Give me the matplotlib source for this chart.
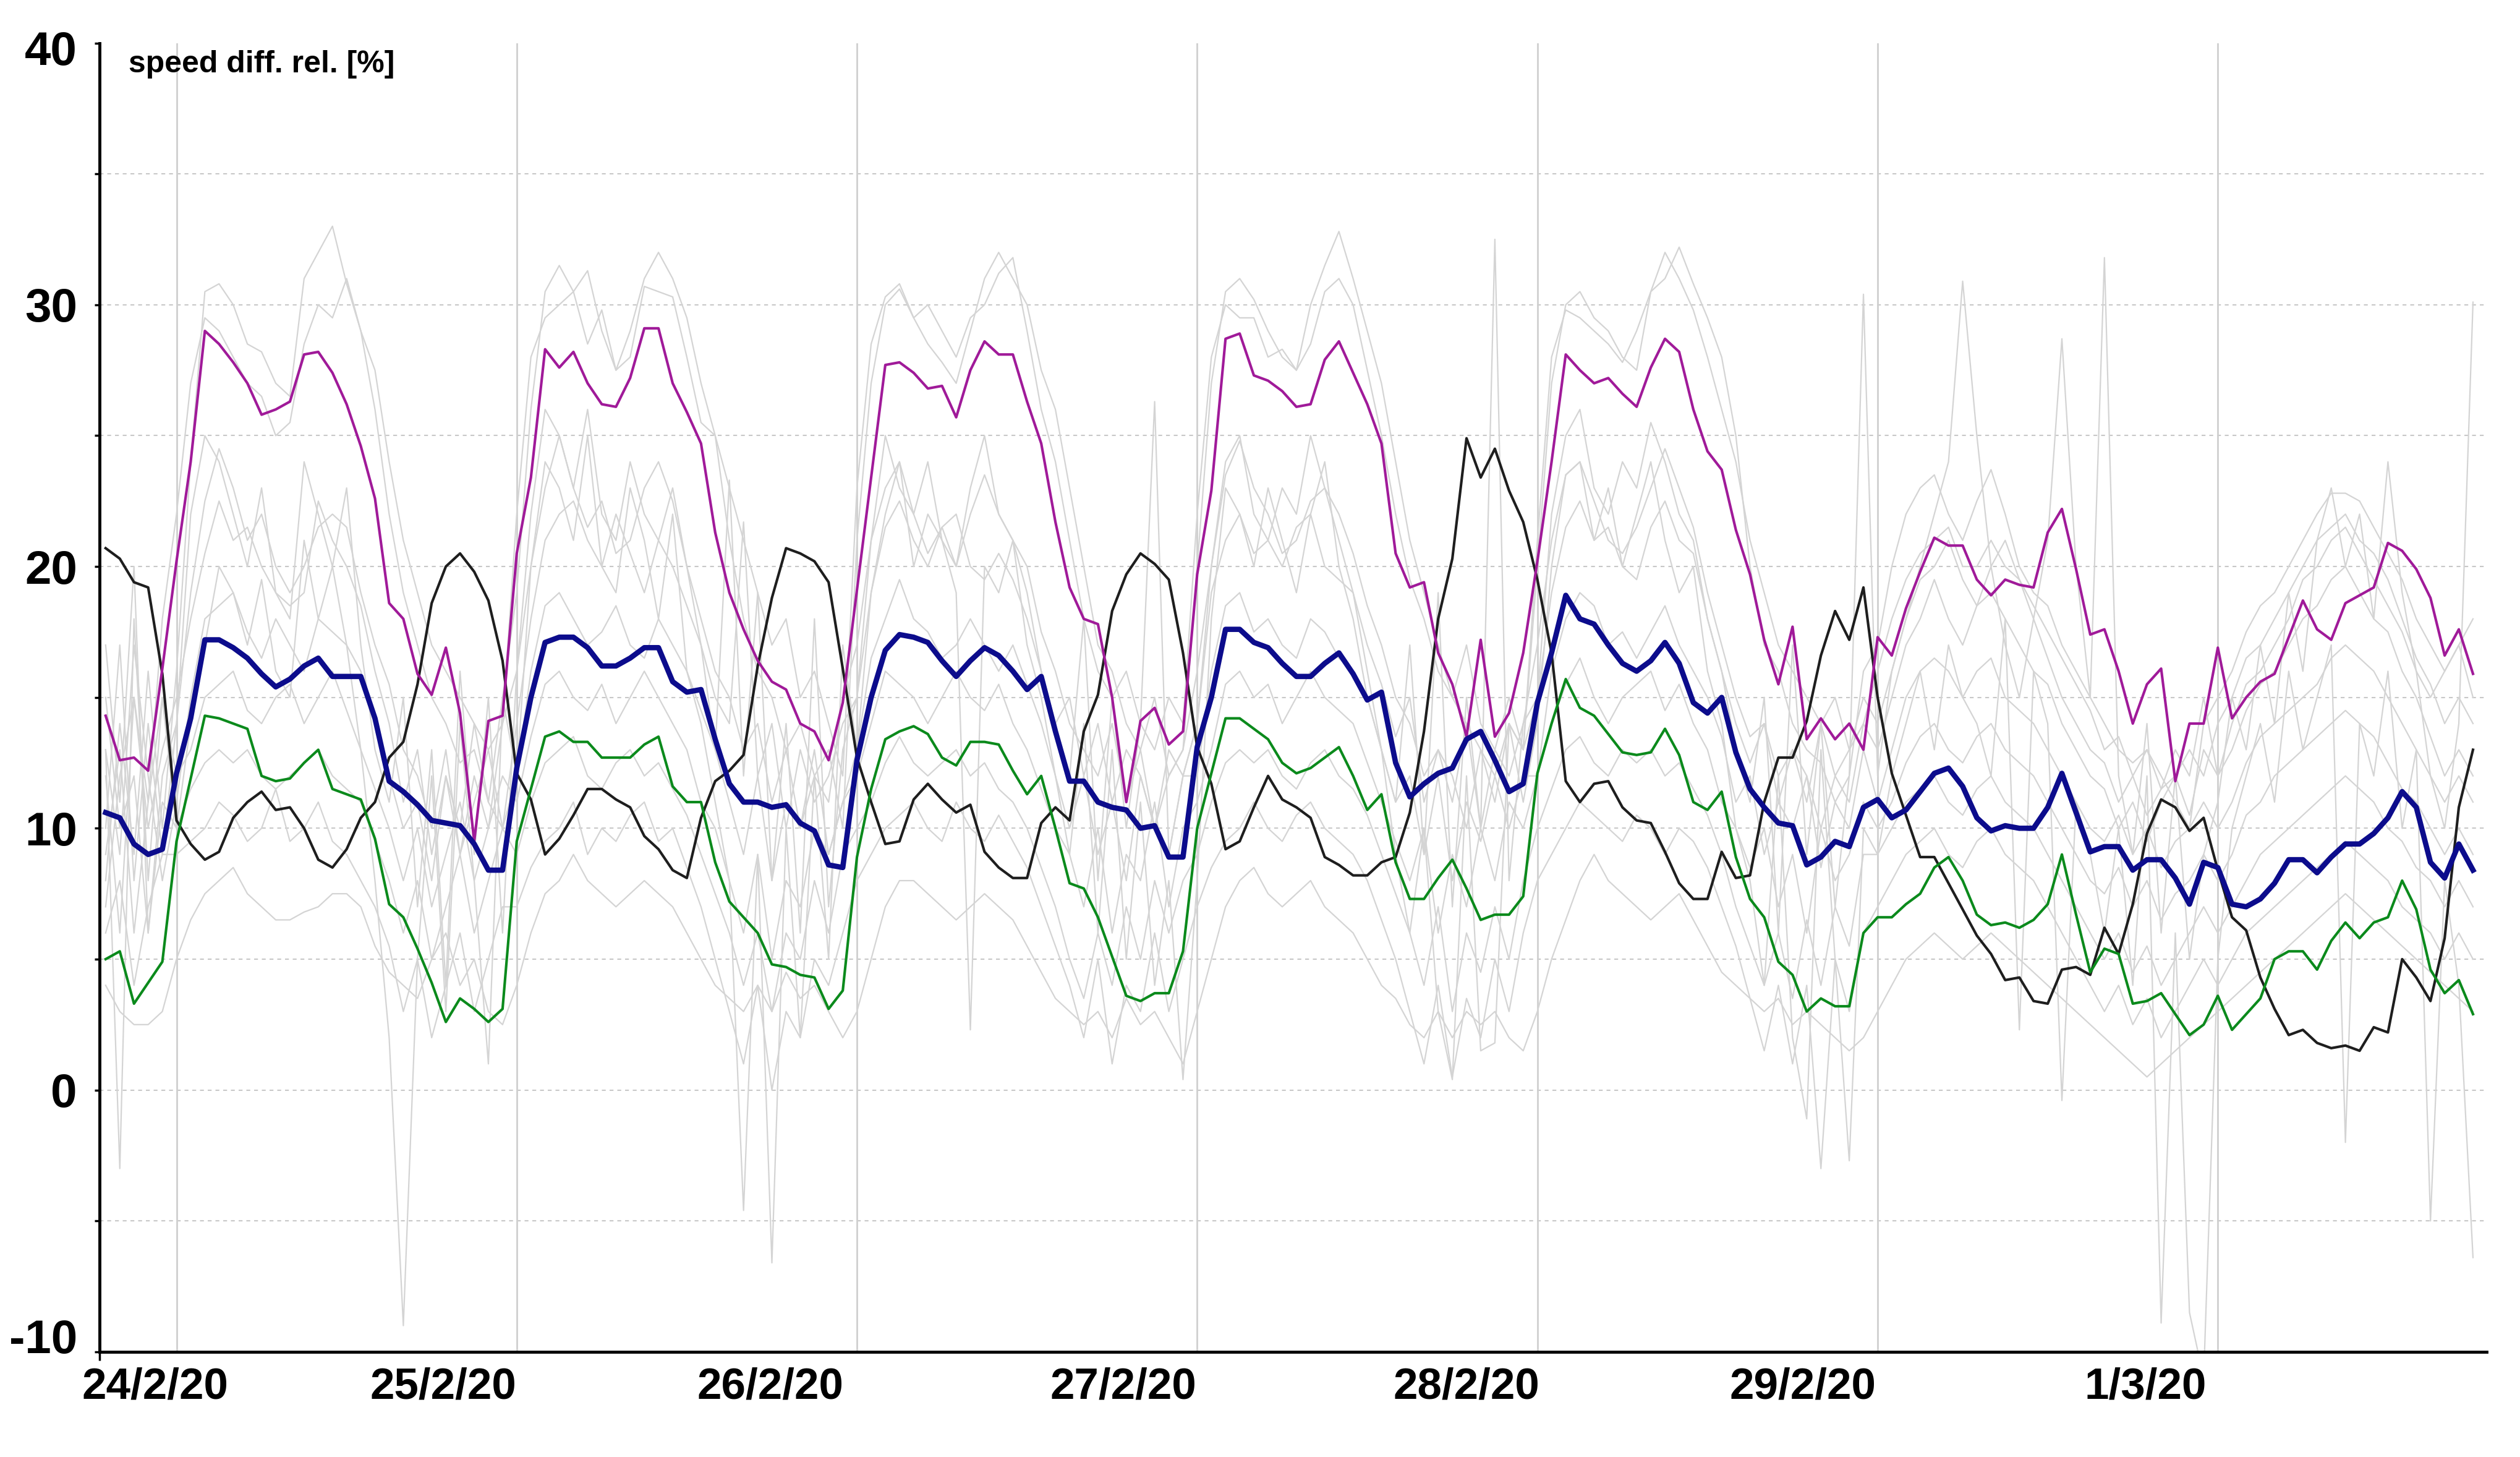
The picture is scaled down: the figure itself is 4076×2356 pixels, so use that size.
import numpy as np
import matplotlib
matplotlib.use("Agg")
import matplotlib.pyplot as plt
from matplotlib.transforms import ScaledTranslation

# hourly samples, hour 0 = 24/2/20 00:00
hours = np.arange(-5, 163)

blue = [10.6, 10.4, 9.4, 9.0, 9.2,
        12.1, 14.2, 17.2, 17.2, 16.9, 16.5, 15.9, 15.4, 15.7, 16.2, 16.5, 15.8, 15.8, 15.8, 14.2, 11.8, 11.4, 10.9, 10.3, 10.2, 10.1, 9.4, 8.4, 8.4,
        12.3, 15.0, 17.1, 17.3, 17.3, 16.9, 16.2, 16.2, 16.5, 16.9, 16.9, 15.6, 15.2, 15.3, 13.4, 11.7, 11.0, 11.0, 10.8, 10.9, 10.2, 9.9, 8.6, 8.5,
        12.6, 15.0, 16.8, 17.4, 17.3, 17.1, 16.4, 15.8, 16.4, 16.9, 16.6, 16.0, 15.3, 15.8, 13.7, 11.8, 11.8, 11.0, 10.8, 10.7, 10.0, 10.1, 8.9, 8.9,
        13.1, 15.0, 17.6, 17.6, 17.1, 16.9, 16.3, 15.8, 15.8, 16.3, 16.7, 15.9, 14.9, 15.2, 12.5, 11.2, 11.7, 12.1, 12.3, 13.4, 13.7, 12.6, 11.4, 11.7,
        14.8, 16.7, 18.9, 18.0, 17.8, 17.0, 16.3, 16.0, 16.4, 17.1, 16.3, 14.8, 14.4, 15.0, 12.9, 11.5, 10.8, 10.2, 10.1, 8.6, 8.9, 9.5, 9.3, 10.8,
        11.1, 10.4, 10.7, 11.4, 12.1, 12.3, 11.6, 10.4, 9.9, 10.1, 10.0, 10.0, 10.8, 12.1, 10.6, 9.1, 9.3, 9.3, 8.4, 8.8, 8.8, 8.1, 7.1, 8.7,
        8.5, 7.1, 7.0, 7.3, 7.9, 8.8, 8.8, 8.3, 8.9, 9.4, 9.4, 9.8, 10.4, 11.4, 10.8, 8.7, 8.1, 9.4, 8.4]

magenta = [14.3, 12.6, 12.7, 12.2, 16.1,
           20.2, 24.0, 29.0, 28.5, 27.8, 27.0, 25.8, 26.0, 26.3, 28.1, 28.2, 27.4, 26.2, 24.6, 22.6, 18.6, 18.0, 15.9, 15.1, 16.9, 14.4, 9.5, 14.1, 14.3,
           20.5, 23.4, 28.3, 27.6, 28.2, 27.0, 26.2, 26.1, 27.2, 29.1, 29.1, 27.0, 25.9, 24.7, 21.3, 19.0, 17.6, 16.4, 15.6, 15.3, 14.0, 13.7, 12.6, 14.8,
           19.1, 23.4, 27.7, 27.8, 27.4, 26.8, 26.9, 25.7, 27.5, 28.6, 28.1, 28.1, 26.3, 24.7, 21.7, 19.2, 18.0, 17.8, 15.0, 11.0, 14.1, 14.6, 13.2, 13.7,
           19.7, 22.9, 28.7, 28.9, 27.3, 27.1, 26.7, 26.1, 26.2, 27.9, 28.6, 27.4, 26.2, 24.7, 20.5, 19.2, 19.4, 16.7, 15.5, 13.5, 17.2, 13.5, 14.4, 16.7,
           20.2, 24.0, 28.1, 27.5, 27.0, 27.2, 26.6, 26.1, 27.6, 28.7, 28.2, 26.0, 24.4, 23.7, 21.4, 19.7, 17.2, 15.5, 17.7, 13.4, 14.2, 13.4, 14.0, 13.0,
           17.3, 16.6, 18.4, 19.8, 21.1, 20.8, 20.8, 19.5, 18.9, 19.5, 19.3, 19.2, 21.3, 22.2, 19.9, 17.4, 17.6, 16.0, 14.0, 15.5, 16.1, 11.8, 14.0, 14.0,
           16.9, 14.2, 15.0, 15.6, 15.9, 17.3, 18.7, 17.6, 17.2, 18.6, 18.9, 19.2, 20.9, 20.6, 19.9, 18.8, 16.6, 17.6, 15.9]

green = [5.0, 5.3, 3.3, 4.1, 4.9,
         9.5, 11.9, 14.3, 14.2, 14.0, 13.8, 12.0, 11.8, 11.9, 12.5, 13.0, 11.5, 11.3, 11.1, 9.6, 7.1, 6.6, 5.4, 4.1, 2.6, 3.5, 3.1, 2.6, 3.1,
         9.5, 11.5, 13.5, 13.7, 13.3, 13.3, 12.7, 12.7, 12.7, 13.2, 13.5, 11.6, 11.0, 11.0, 8.7, 7.2, 6.6, 6.0, 4.8, 4.7, 4.4, 4.3, 3.1, 3.8,
         8.9, 11.5, 13.4, 13.7, 13.9, 13.6, 12.7, 12.4, 13.3, 13.3, 13.2, 12.2, 11.3, 12.0, 10.0, 7.9, 7.7, 6.6, 5.1, 3.6, 3.4, 3.7, 3.7, 5.3,
         10.0, 12.1, 14.2, 14.2, 13.8, 13.4, 12.5, 12.1, 12.3, 12.7, 13.1, 12.0, 10.7, 11.3, 8.7, 7.3, 7.3, 8.1, 8.8, 7.7, 6.5, 6.7, 6.7, 7.4,
         12.1, 14.0, 15.7, 14.6, 14.3, 13.6, 12.9, 12.8, 12.9, 13.8, 12.8, 11.0, 10.7, 11.4, 8.9, 7.3, 6.6, 4.9, 4.4, 3.0, 3.5, 3.2, 3.2, 6.0,
         6.6, 6.6, 7.1, 7.5, 8.5, 8.9, 8.0, 6.7, 6.3, 6.4, 6.2, 6.5, 7.1, 9.0, 6.7, 4.5, 5.4, 5.2, 3.3, 3.4, 3.7, 2.9, 2.1, 2.5,
         3.6, 2.3, 2.9, 3.5, 5.0, 5.3, 5.3, 4.6, 5.7, 6.4, 5.8, 6.4, 6.6, 8.0, 6.9, 4.6, 3.7, 4.2, 2.9]

black = [20.7, 20.3, 19.4, 19.2, 15.9,
         10.3, 9.4, 8.8, 9.1, 10.4, 11.0, 11.4, 10.7, 10.8, 10.0, 8.8, 8.5, 9.2, 10.4, 11.0, 12.7, 13.3, 15.5, 18.6, 20.0, 20.5, 19.8, 18.7, 16.4,
         12.1, 11.1, 9.0, 9.6, 10.5, 11.5, 11.5, 11.1, 10.8, 9.7, 9.2, 8.4, 8.1, 10.4, 11.8, 12.2, 12.8, 16.2, 18.8, 20.7, 20.5, 20.2, 19.4, 16.1,
         12.7, 11.0, 9.4, 9.5, 11.1, 11.7, 11.1, 10.6, 10.9, 9.1, 8.5, 8.1, 8.1, 10.2, 10.8, 10.3, 13.7, 15.1, 18.3, 19.7, 20.5, 20.1, 19.5, 16.7,
         13.1, 11.7, 9.2, 9.5, 10.8, 12.0, 11.1, 10.8, 10.4, 8.9, 8.6, 8.2, 8.2, 8.7, 8.9, 10.6, 13.7, 18.0, 20.3, 24.9, 23.4, 24.5, 22.9, 21.7,
         19.5, 16.7, 11.8, 11.0, 11.7, 11.8, 10.8, 10.3, 10.2, 9.1, 7.9, 7.3, 7.3, 9.1, 8.1, 8.2, 11.0, 12.7, 12.7, 14.1, 16.6, 18.3, 17.2, 19.2,
         15.0, 12.1, 10.5, 8.9, 8.9, 7.9, 6.9, 5.9, 5.2, 4.2, 4.3, 3.4, 3.3, 4.6, 4.7, 4.4, 6.2, 5.2, 7.1, 9.8, 11.1, 10.8, 9.9, 10.4,
         8.4, 6.6, 6.1, 4.3, 3.1, 2.1, 2.3, 1.8, 1.6, 1.7, 1.5, 2.4, 2.2, 5.0, 4.3, 3.4, 5.8, 10.8, 13.0]

# individual series in grey
gray_01 = [8, 14, 9, 16, 10,
           16, 24, 30.5, 30.8, 30, 28.5, 28.2, 27, 26.5, 31, 32, 33, 30.8, 29, 26, 22, 19, 17, 15, 14, 12.5, 13, 11, 15,
           19, 26, 30.5, 31.5, 30.5, 31.3, 29, 27.5, 29, 31, 32, 31, 29.5, 27, 25, 21, 18, 16, 15, 13, 14, 12, 13, 10,
           21, 27, 30, 30.6, 29.5, 28.5, 27.8, 27, 29, 31, 32, 31, 30, 27.5, 26, 23, 20, 17, 16, 14, 13, 15, 12, 13,
           20, 27, 30.5, 31, 30.2, 29, 28, 27.5, 30, 31.5, 32.8, 31, 29, 27, 24, 21, 19, 17, 15, 14, 13, 12, 14, 13,
           20, 27, 30, 30.5, 29.5, 29, 28, 27.5, 30.5, 31, 32.2, 30.8, 29.5, 28, 25, 20, 17, 16, 14, 13, 12.5, 11, 12, 16,
           17, 20, 22, 23, 23.5, 22, 21, 22.5, 23.7, 22, 20, 19, 18.5, 17, 16, 15, 14, 13, 12.5, 13, 12, 11, 10, 14,
           15, 16, 17.5, 18.5, 19, 20, 21, 22, 22.8, 22.8, 22.5, 21.5, 20.5, 19.5, 18, 17, 16, 17, 15]
gray_02 = [12, 6, 15, 11, 18,
           22, 27, 29.5, 29, 28, 27, 26.5, 25, 25.5, 28.5, 30, 29.5, 31, 29, 27.5, 24, 21, 19, 17, 16, 15, 14, 13, 14,
           22, 28, 29.5, 30, 30.5, 28.5, 29.8, 27.5, 28, 30.7, 30.5, 30.3, 28, 25.5, 25, 23, 21, 19, 17, 18, 15, 16, 14, 12,
           23, 28.5, 30.3, 30.8, 29.5, 30, 29, 28, 29.5, 30, 31.2, 31.8, 29, 26, 24, 21, 18, 16, 15, 16, 14, 13, 15, 14,
           22, 28, 30, 29.5, 29.5, 28, 28.3, 27.5, 28.5, 30.5, 31, 30, 27.5, 25, 22, 19.5, 18, 16, 15, 17, 14, 13, 15, 13,
           21, 28, 29.8, 29.5, 29, 28.5, 27.8, 29, 30.5, 32, 31, 29.8, 28, 26, 24, 21, 19, 17, 16, 15, 14, 15, 13, 14,
           16, 18, 19.5, 20.5, 21, 21.5, 20, 20, 21, 20, 19.5, 18.5, 17.5, 16.5, 15.5, 14.5, 13, 13.5, 12, 13, 11.5, 12, 13, 12,
           14, 15, 16.5, 17, 18, 19, 20, 21, 21.5, 22, 21, 20.5, 19.5, 18, 16.5, 15.5, 14, 15, 14]
gray_03 = [10, 17, 8, 14, 9,
           14, 19, 22.5, 24.5, 23, 21, 22, 20, 19, 20, 21.5, 22, 21.5, 19, 17, 15.5, 13, 12, 10, 13, 9, 12, 10, 14,
           16, 20, 23, 25, 23, 21.5, 22.5, 20.5, 21, 23, 24, 22.5, 20, 18, 16, 15, 13, 14, 11, 13, 10, 12, 11, 15,
           17, 21, 23, 24, 22, 20.5, 21.5, 20, 22, 23.5, 22, 21, 20, 17.5, 16, 14, 13, 12, 14, 11, 13, 10, 12, 13,
           16, 20, 23.5, 24.8, 23, 22, 20.5, 21, 22.5, 23, 22, 20.5, 18.5, 17, 15, 14, 12, 13, 11, 14, 10, 13, 12, 14,
           17, 21, 23.5, 24, 22.5, 21, 20.5, 21.5, 23, 24.5, 23, 21.5, 19, 17, 15, 13.5, 14, 12, 13, 11, 14, 12, 13, 15,
           14, 16, 18, 19.5, 20, 21, 19.5, 18.5, 20, 21, 19.5, 18, 16.5, 15, 14, 13, 12.5, 11, 12, 10.5, 11.5, 13, 12, 15,
           12, 14, 15.5, 16, 17, 18, 19.5, 20, 21, 21.5, 20.5, 19.5, 18.5, 17.5, 16, 15, 16, 17, 18]
gray_04 = [7, 12, 15, 10, 13,
           15, 18, 20.5, 22.5, 21, 21.5, 20, 19, 18.5, 19, 22.5, 21, 20, 18.5, 16, 14, 11, 13, 9, 12, 10, 14, 11, 10,
           14, 18, 21, 22, 22.5, 21, 20, 22, 20.5, 19, 21, 20, 18.5, 17, 15, 14, 21.7, 12, 14, 10, 13, 11, 12, 14,
           15, 19, 21.5, 22.5, 21, 20, 21.5, 22, 20, 19.5, 20.5, 19.5, 18, 16, 14, 15, 12, 14, 11, 13, 12, 10, 13, 12,
           14, 19, 21, 22, 20.5, 21, 20, 21.5, 22, 20, 19.5, 19, 17, 15.5, 13.5, 15, 11, 13, 12, 10, 13, 11, 14, 13,
           15, 19, 21.5, 22.5, 21, 21.5, 20, 19.5, 21.5, 22.5, 21, 20.5, 18, 16, 14, 12.5, 14, 11, 13, 12, 10, 12, 11, 14,
           13, 15, 17, 18, 19.5, 18, 17, 18.5, 19, 18, 17, 16, 15.5, 14, 13, 12, 11.5, 10, 11, 9.5, 11, 12, 10.5, 13,
           12, 13, 14.5, 15.5, 16, 17, 18, 18.5, 19.5, 20, 19, 18, 17.5, 16, 15, 13.5, 12, 13, 12]
gray_05 = [13, 9, 17, 12, 8,
           11, 15, 18, 18.5, 19, 17.5, 16.5, 18, 17, 16, 18, 17.5, 17, 16, 14, 12, 10, 11, 8, 12, 9, 11, 13, 10,
           12, 16, 18.5, 19, 18, 17, 17.5, 18.5, 17, 16.5, 18, 17, 16, 14.5, 13, 11, 9, 12, 8, 11, 10, 13, 9, 11,
           13, 16.5, 18, 19.5, 18, 17.5, 16.5, 17, 18, 17, 16, 17, 15.5, 14, 12, 10, 12, 9, 11, 8, 12, 10, 9, 12,
           12, 16, 18.5, 19, 17.5, 18, 17, 16.5, 18, 17.5, 16.5, 16, 15, 13, 11, 12, 9, 12, 8, 11, 9.5, 12, 10, 12,
           12, 16, 18, 19, 18.5, 17, 17.5, 16.5, 17.5, 18.5, 17, 16, 15, 13.5, 11, 12, 9, 11, 10, 12, 8.5, 11, 10, 13,
           11, 13, 15, 16, 16.5, 16, 15, 16, 16.5, 15, 14.5, 14, 13, 12, 11, 10, 9.5, 10.5, 9, 10, 8.5, 9.5, 10, 11,
           10, 11, 12.5, 13.5, 14, 14.5, 15, 15.5, 16.5, 17, 16.5, 16, 15, 14, 13, 12, 11, 12, 11]
gray_06 = [9, 13, 6, 11, 15,
           12, 13, 15, 15.5, 16, 14.5, 14, 15, 15.5, 14, 15, 16, 14.5, 13, 11.5, 10, 8, 10, 7, 9, 11, 8, 10, 12,
           11, 13.5, 15.5, 16, 15, 14.5, 15.5, 14, 15, 16, 15, 14, 13, 11, 10, 8, 6, 9, 5, 8, 7, 10, 9, 11,
           12, 14, 16, 15.5, 15, 14, 15, 16, 15, 14.5, 15.5, 14, 13, 11.5, 10, 9, 7, 10, 6, 9, 8, 11, 7, 10,
           11, 13, 15.5, 16, 15, 15.5, 14, 15, 16, 15, 14.5, 14, 12.5, 11, 9.5, 8, 10, 6, 9, 7, 10, 8, 11, 10,
           12, 14, 15.5, 16.5, 15, 14, 15, 15.5, 16, 14.5, 15.5, 14, 13, 11, 10, 8.5, 10, 7, 9, 6, 10, 8, 9, 11,
           10, 11, 12.5, 13.5, 14, 13, 12.5, 13.5, 14, 13, 12.5, 12, 11, 10, 9, 8, 7.5, 8.5, 7, 8, 6.5, 7.5, 8, 9,
           8, 9, 10.5, 11, 12, 12.5, 13, 13.5, 14, 14.5, 14, 13.5, 12.5, 11.5, 11, 10, 9, 10, 9]
gray_07 = [15, 10, 12, 6, 11,
           10, 11.5, 12.5, 13, 12.5, 13, 12, 11.5, 12, 12.5, 13, 12, 11.5, 11, 9.5, 8, 6, 8, 5, 7, 9, 6, 8, 10,
           9, 11, 12.5, 13, 13.5, 12, 11.5, 12.5, 13, 12, 12.5, 11.5, 10.5, 9, 7.5, 6, 4, 6, 3, 6, 5, 8, 6, 9,
           10, 11, 12.5, 13.5, 12.5, 12, 12.5, 13, 12, 12.5, 11.5, 11, 10, 8.5, 7, 5, 3.5, 6, 4, 7, 5, 8, 6, 8,
           9, 11, 12.5, 13, 12.5, 13, 12, 11.5, 12.5, 13, 12, 11.5, 10.5, 9, 7.5, 6, 4, 7, 3, 6, 4.5, 7, 5, 8,
           10, 11.5, 13, 13.5, 12.5, 12, 13, 12.5, 13, 12, 12.5, 11.5, 10.5, 9, 7, 5.5, 4, 6, 3.5, 6.5, 4, 7, 5.5, 9,
           9, 10, 11, 11.5, 12, 11, 10.5, 11.5, 12, 11, 10.5, 10, 9, 8, 7, 6, 5, 6, 4.5, 5.5, 4, 5, 6, 7,
           6, 7, 8, 9, 9.5, 10, 10.5, 11, 11.5, 12, 11.5, 11, 10, 9.5, 8.5, 8, 7, 8, 7]
gray_08 = [6, 8, 4, 7, 9,
           9, 9.5, 10, 11, 10.5, 9.5, 10, 11.5, 9.5, 10, 11, 9.5, 9, 8, 7, 5.5, 3, 5, 2, 4, 6, 3, 5, 7,
           7, 8.5, 9.5, 10, 11, 9, 10, 9.5, 10.5, 11, 9.5, 10, 8.5, 7, 5, 3, 1, 4, 0, 3, 2, 5, 4, 6,
           8, 9, 10, 10.5, 11, 10, 9.5, 11, 10, 9.5, 10.5, 9.5, 8.5, 7, 5.5, 4, 2, 5, 1, 4, 3, 6, 3, 5,
           7, 8.5, 9.5, 10, 11, 10, 9.5, 10.5, 11, 10, 9.5, 9, 8, 6.5, 5, 3, 1, 4, 0.5, 3.5, 2, 5, 3, 6,
           8, 9, 10, 11, 10.5, 10, 9.5, 10.5, 10, 9, 10, 9.5, 8.5, 7, 5.5, 3.5, 1.5, 4, 1, 4, -3, 5, 3, 6,
           7, 8, 9, 9.5, 10, 9, 8.5, 9.5, 10, 9, 8.5, 8, 7, 6, 5, 4, 3, 4, 2.5, 3.5, 2, 3, 4, 5,
           4, 5, 6, 6.5, 7, 7.5, 8, 8.5, 9, 9.5, 9, 8.5, 8, 7, 6.5, 6, 5, 6, 5]
gray_09 = [4, 3, 2.5, 2.5, 3,
           5, 6.5, 7.5, 8, 8.5, 7.5, 7, 6.5, 6.5, 6.8, 7, 7.5, 7.5, 7, 5.5, 4.5, 4, 3.5, 5, 6, 4, 5, 3, 2.5,
           4, 6, 7.5, 8, 9, 8, 7.5, 7, 7.5, 8, 7.5, 7, 6, 5, 4, 3.5, 3, 4, 3, 4.5, 3.5, 4, 3, 2,
           3, 5, 7, 8, 8, 7.5, 7, 6.5, 7, 7.5, 7, 6.5, 5.5, 4.5, 3.5, 3, 2.5, 3, 2, 3.5, 2.5, 3, 2, 1,
           3, 5, 7, 8, 8.5, 7.5, 7, 7.5, 8, 7, 6.5, 6, 5, 4, 3.5, 2.5, 2, 3, 2, 3, 2.5, 3, 2, 1.5,
           3, 5, 6.5, 8, 9, 8, 7.5, 7, 6.5, 7, 7.5, 6.5, 5.5, 4.5, 4, 3.5, 3, 3.5, 2.5, 3, 2.5, 2, 1.5, 2,
           3, 4, 5, 5.5, 6, 5.5, 5, 5.5, 6, 5.5, 5, 4.5, 4, 3.5, 3, 2.5, 2, 1.5, 1, 0.5, 1, 1.5, 2, 2.5,
           3, 3.5, 4, 4.5, 5, 5.5, 6, 6.5, 7, 7.5, 7, 6.5, 6, 5.5, 5, 4.5, 4, 3.5, 3]
gray_10 = [13, -3, 18, 8, 15,
           10, 14, 17, 20, 19, 17, 19.5, 16, 15, 21, 18, 20, 17, 13, 8, 2, -9, 5, 12, 3, 14, 8, 1, 15,
           12, 20, 24, 23, 21, 25, 20, 19, 23, 21, 18, 22, 16, 14, 11, 8, -4.6, 9, -6.6, 10, 2, 12, 5, 17,
           13, 19, 22, 24, 20, 22, 21, 19, 2.3, 20, 19, 21, 17, 15, 12, 9, 14, 6, 13, 5, 11, 4, 8, 0.4,
           8, 18, 23, 22, 20, 23, 21, 19, 22, 24, 20, 18, 15, 13, 9, 6, 10, 3, 0.4, 12, 1.5, 1.8, 14, 11,
           14, 20, 23.5, 24, 21, 23, 20, 22, 24, 21, 19, 20, 16, 14, 10, 8, 4, 12, 2, -1.1, 13, 5, -2.7, 10,
           9, 12, 14, 16, 13, 17, 15, 14, 12, 18, 2.3, 16, 14, -0.4, 11, 9, 6, 10, 4, 12, -8.9, 6, -8.5, -11,
           5, 10, 12, 14, 11, 16, 13, 15, 17, -2, 14, 12, 16, 10, 13, -5, 8, 4, -6.4]
gray_11 = [17, 11, 20, 6, 12,
           14, 22, 25, 24, 22, 20, 23, 19, 18, 24, 22, 20, 23, 17, 13, 11, 15, 7, 13, 4, 16, 9, 15, 6,
           16, 22, 26, 25, 23, 26, 22, 21, 24, 22, 21, 23, 20, 17, 13, 23.3, 12, 19, 8, 14, 6, 18, 7, 13,
           15, 21, 25, 23, 22, 24, 21, 20, 23, 25, 22, 21, 19, 16, 14, 12, 18, 8, 15, 10, 14, 26.3, 9, 12,
           14, 20, 24, 25, 22, 21, 23, 22, 25, 23, 21, 19, 16, 13, 11, 17, 9, 19, 7, 15, 10, 32.5, 8, 14,
           15, 22, 25, 26, 23, 22, 24, 23, 25.5, 24, 22, 21, 18, 16, 13, 11, 15, 6, 17, 9, 14, 7, 12, 30.4,
           12, 16, 18, 20, 22, 24, 30.9, 25, 20, 17, 15, 18, 21, 28.7, 20, 15, 31.8, 12, 9, 14, 6, 12, 5, 9,
           11, 15, 13, 17, 14, 19, 16, 21, 23, 20, 22, 18, 24, 19, 16, 12, 10, 14, 30.1]

grays = [gray_01, gray_02, gray_03, gray_04, gray_05, gray_06,
         gray_07, gray_08, gray_09, gray_10, gray_11]

date_labels = ["24/2/20", "25/2/20", "26/2/20", "27/2/20", "28/2/20", "29/2/20", "1/3/20"]
label_hours = [-1.5, 18.8, 41.9, 66.8, 91.0, 114.7, 138.9]

font = ["Liberation Sans Narrow", "Liberation Sans", "DejaVu Sans"]
plt.rcParams["font.family"] = font
plt.rcParams["font.weight"] = "bold"

fig = plt.figure(figsize=(40.76, 23.56), dpi=100)
ax = fig.add_axes([0.0395, 0.0722, 0.94725, 0.8983])

for y in range(-5, 40, 5):
    ax.axhline(y, color="#c8c8c8", lw=1.5, ls=(0, (3, 3)), zorder=0)
for d in range(0, 163, 24):
    ax.axvline(d, color="#cfcfcf", lw=2.0, zorder=0)

for g in grays:
    ax.plot(hours[:len(g)], g, color="#d4d4d4", lw=1.6, zorder=1)

ax.plot(hours, black, color="#1e1e1e", lw=3.0, zorder=3)
ax.plot(hours, green, color="#0b8a1c", lw=3.0, zorder=3)
ax.plot(hours, magenta, color="#a01a99", lw=3.0, zorder=3)
ax.plot(hours, blue, color="#0c0c8c", lw=6.2, zorder=4)

ax.set_xlim(-5.43, 162.96)
ax.set_ylim(-10, 40)

for s in ["top", "right"]:
    ax.spines[s].set_visible(False)
for s in ["left", "bottom"]:
    ax.spines[s].set_linewidth(3.5)

yt = np.arange(-10, 41, 5)
ax.set_yticks(yt, [str(v) if v % 10 == 0 else "" for v in yt])
ax.tick_params(axis="y", length=6, width=2.5, pad=20, labelsize=55)
ax.set_xticks(label_hours, date_labels)
ax.tick_params(axis="x", length=0, pad=18, labelsize=51)
ax.set_xticks([-5.43], minor=True)
ax.tick_params(axis="x", which="minor", length=10, width=2.5)

# end labels sit a little inside the axis range
for lab in ax.get_yticklabels():
    if lab.get_text() == "-10":
        lab.set_transform(lab.get_transform() + ScaledTranslation(0, 18 / 72, fig.dpi_scale_trans))
    elif lab.get_text() == "40":
        lab.set_transform(lab.get_transform() + ScaledTranslation(0, -6 / 72, fig.dpi_scale_trans))

ax.text(0.0122, 0.9837, "speed diff. rel. [%]", transform=ax.transAxes,
        ha="left", va="center", fontsize=36, fontweight="bold")

fig.savefig("out.png", dpi=100)
